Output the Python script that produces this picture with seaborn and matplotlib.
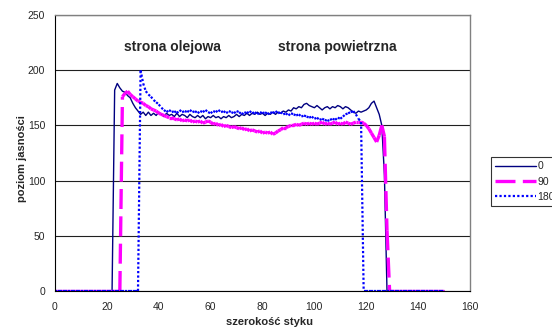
import numpy as np
import pandas as pd
import matplotlib
matplotlib.use("Agg")
import matplotlib.pyplot as plt
from matplotlib.collections import LineCollection
import seaborn as sns

# szerokość styku (oś x), co 1 jednostkę od 0 do 150
szerokosc = list(range(0, 151))

# seria "0"
seria_0 = [0, 0, 0, 0, 0, 0, 0, 0, 0, 0, 0, 0, 0, 0, 0, 0, 0, 0, 0, 0,
           0, 0, 0, 182, 188, 184, 181, 180, 177, 175, 170, 166, 163, 160, 162, 159, 162, 159, 161, 159,
           162, 160, 158, 161, 159, 160, 158, 161, 158, 160, 159, 157, 160, 158, 157, 159, 157, 159, 156, 158,
           157, 159, 157, 158, 156, 158, 157, 159, 157, 158, 160, 158, 160, 159, 161, 159, 161, 160, 162, 160,
           161, 159, 161, 160, 162, 160, 162, 161, 163, 162, 164, 163, 166, 165, 167, 166, 169, 170, 168, 167,
           166, 168, 166, 164, 166, 167, 165, 167, 166, 168, 167, 165, 167, 166, 164, 162, 161, 163, 162, 163,
           164, 166, 170, 172, 166, 160, 150, 105, 0, 0, 0, 0, 0, 0, 0, 0, 0, 0, 0, 0,
           0, 0, 0, 0, 0, 0, 0, 0, 0, 0, 0]

# seria "90"
seria_90 = [0, 0, 0, 0, 0, 0, 0, 0, 0, 0, 0, 0, 0, 0, 0, 0, 0, 0, 0, 0,
            0, 0, 0, 0, 0, 0, 176, 179, 181, 178, 176, 174, 172, 171, 170, 168, 167, 165, 164, 163,
            161, 160, 159, 158, 157, 157, 156, 155, 156, 154, 155, 154, 155, 153, 154, 153, 154, 152, 153, 154,
            153, 151, 152, 150, 151, 149, 150, 149, 148, 149, 148, 147, 148, 146, 147, 145, 146, 145, 144, 145,
            143, 144, 143, 144, 142, 143, 145, 146, 148, 148, 149, 150, 150, 151, 150, 151, 152, 151, 152, 151,
            152, 151, 152, 153, 151, 152, 151, 152, 153, 151, 152, 151, 153, 152, 151, 152, 153, 153, 153, 152,
            150, 147, 143, 139, 135, 141, 150, 140, 55, 0, 0, 0, 0, 0, 0, 0, 0, 0, 0, 0,
            0, 0, 0, 0, 0, 0, 0, 0, 0, 0, 0]

# seria "180"
seria_180 = [0, 0, 0, 0, 0, 0, 0, 0, 0, 0, 0, 0, 0, 0, 0, 0, 0, 0, 0, 0,
             0, 0, 0, 0, 0, 0, 0, 0, 0, 0, 0, 0, 0, 200, 188, 181, 178, 176, 173, 171,
             169, 166, 164, 162, 164, 162, 163, 161, 164, 162, 163, 162, 164, 162, 163, 161, 163, 162, 164, 162,
             161, 163, 162, 164, 162, 163, 161, 163, 162, 161, 163, 162, 160, 162, 161, 163, 161, 162, 160, 162,
             161, 162, 160, 162, 161, 163, 161, 162, 160, 161, 159, 161, 160, 159, 160, 158, 159, 158, 157, 158,
             156, 157, 155, 156, 155, 154, 155, 156, 155, 157, 156, 158, 160, 161, 162, 163, 160, 156, 153, 0,
             0, 0, 0, 0, 0, 0, 0, 0, 0, 0, 0, 0, 0, 0, 0, 0, 0, 0, 0, 0,
             0, 0, 0, 0, 0, 0, 0, 0, 0, 0, 0]

etykiety = ["0", "90", "180"]
kolory = ["#000080", "#FF00FF", "#0000FF"]

sns.set_style("white")
plt.rcParams['font.family'] = ['Liberation Sans', 'DejaVu Sans']

fig = plt.figure(figsize=(5.52, 3.31), dpi=100)
ax = fig.add_axes([55 / 552, 1 - 291 / 331, 415 / 552, 276 / 331])

sns.lineplot(x=szerokosc, y=seria_0, color=kolory[0], linewidth=1.0,
             label=etykiety[0], errorbar=None, legend=False, ax=ax)
sns.lineplot(x=szerokosc, y=seria_90, color=kolory[1], linewidth=2.4,
             dashes=(6, 2.2), label=etykiety[1], errorbar=None, legend=False, ax=ax)
sns.lineplot(x=szerokosc, y=seria_180, color=kolory[2], linewidth=1.6,
             dashes=(1, 1), label=etykiety[2], errorbar=None, legend=False, ax=ax)

linie = ax.get_lines()
leg = ax.legend(handles=linie, labels=etykiety, loc='lower left',
                bbox_to_anchor=(491 / 552, 1 - 206 / 331), bbox_transform=fig.transFigure,
                fontsize=7.5, frameon=True, fancybox=False, edgecolor='black',
                handlelength=3.9, handletextpad=0.15, labelspacing=0.5, borderpad=0.4,
                borderaxespad=0)
leg.get_frame().set_linewidth(0.8)

# Excel zaczyna wzór kreskowania od nowa w każdym odcinku linii
for linia, wzor in [(linie[1], (0, (6, 2.2))), (linie[2], (0, (1, 1)))]:
    xy = linia.get_xydata()
    odcinki = np.stack([xy[:-1], xy[1:]], axis=1)
    lc = LineCollection(odcinki, colors=linia.get_color(), linewidths=linia.get_linewidth(),
                        linestyles=[wzor], capstyle='butt', zorder=linia.get_zorder())
    ax.add_collection(lc)
    linia.remove()

ax.set_xlim(0, 160)
ax.set_ylim(0, 250)
ax.set_xticks(range(0, 161, 20))
ax.set_yticks(range(0, 251, 50))
ax.yaxis.grid(True, color='#202020', linewidth=0.8)
ax.xaxis.grid(False)
ax.set_axisbelow(True)

for s in ['top', 'right']:
    ax.spines[s].set_color('#808080')
    ax.spines[s].set_linewidth(1.0)
for s in ['left', 'bottom']:
    ax.spines[s].set_color('black')
    ax.spines[s].set_linewidth(0.8)

ax.tick_params(axis='x', direction='inout', length=6, width=0.8, labelsize=7.5, pad=5, color='black')
ax.tick_params(axis='y', direction='out', length=4, width=0.8, labelsize=7.5, pad=3, color='black')

ax.set_xlabel('szerokość styku', fontsize=8, fontweight='bold')
ax.set_ylabel('poziom jasności', fontsize=8, fontweight='bold')
ax.xaxis.set_label_coords(0.518, -0.094)
ax.yaxis.set_label_coords(-0.068, 0.48)

ax.text(45.3, 221, 'strona olejowa', fontsize=10, fontweight='bold', ha='center', va='center')
ax.text(108.9, 221, 'strona powietrzna', fontsize=10, fontweight='bold', ha='center', va='center')

fig.savefig('out.png', dpi=100)
